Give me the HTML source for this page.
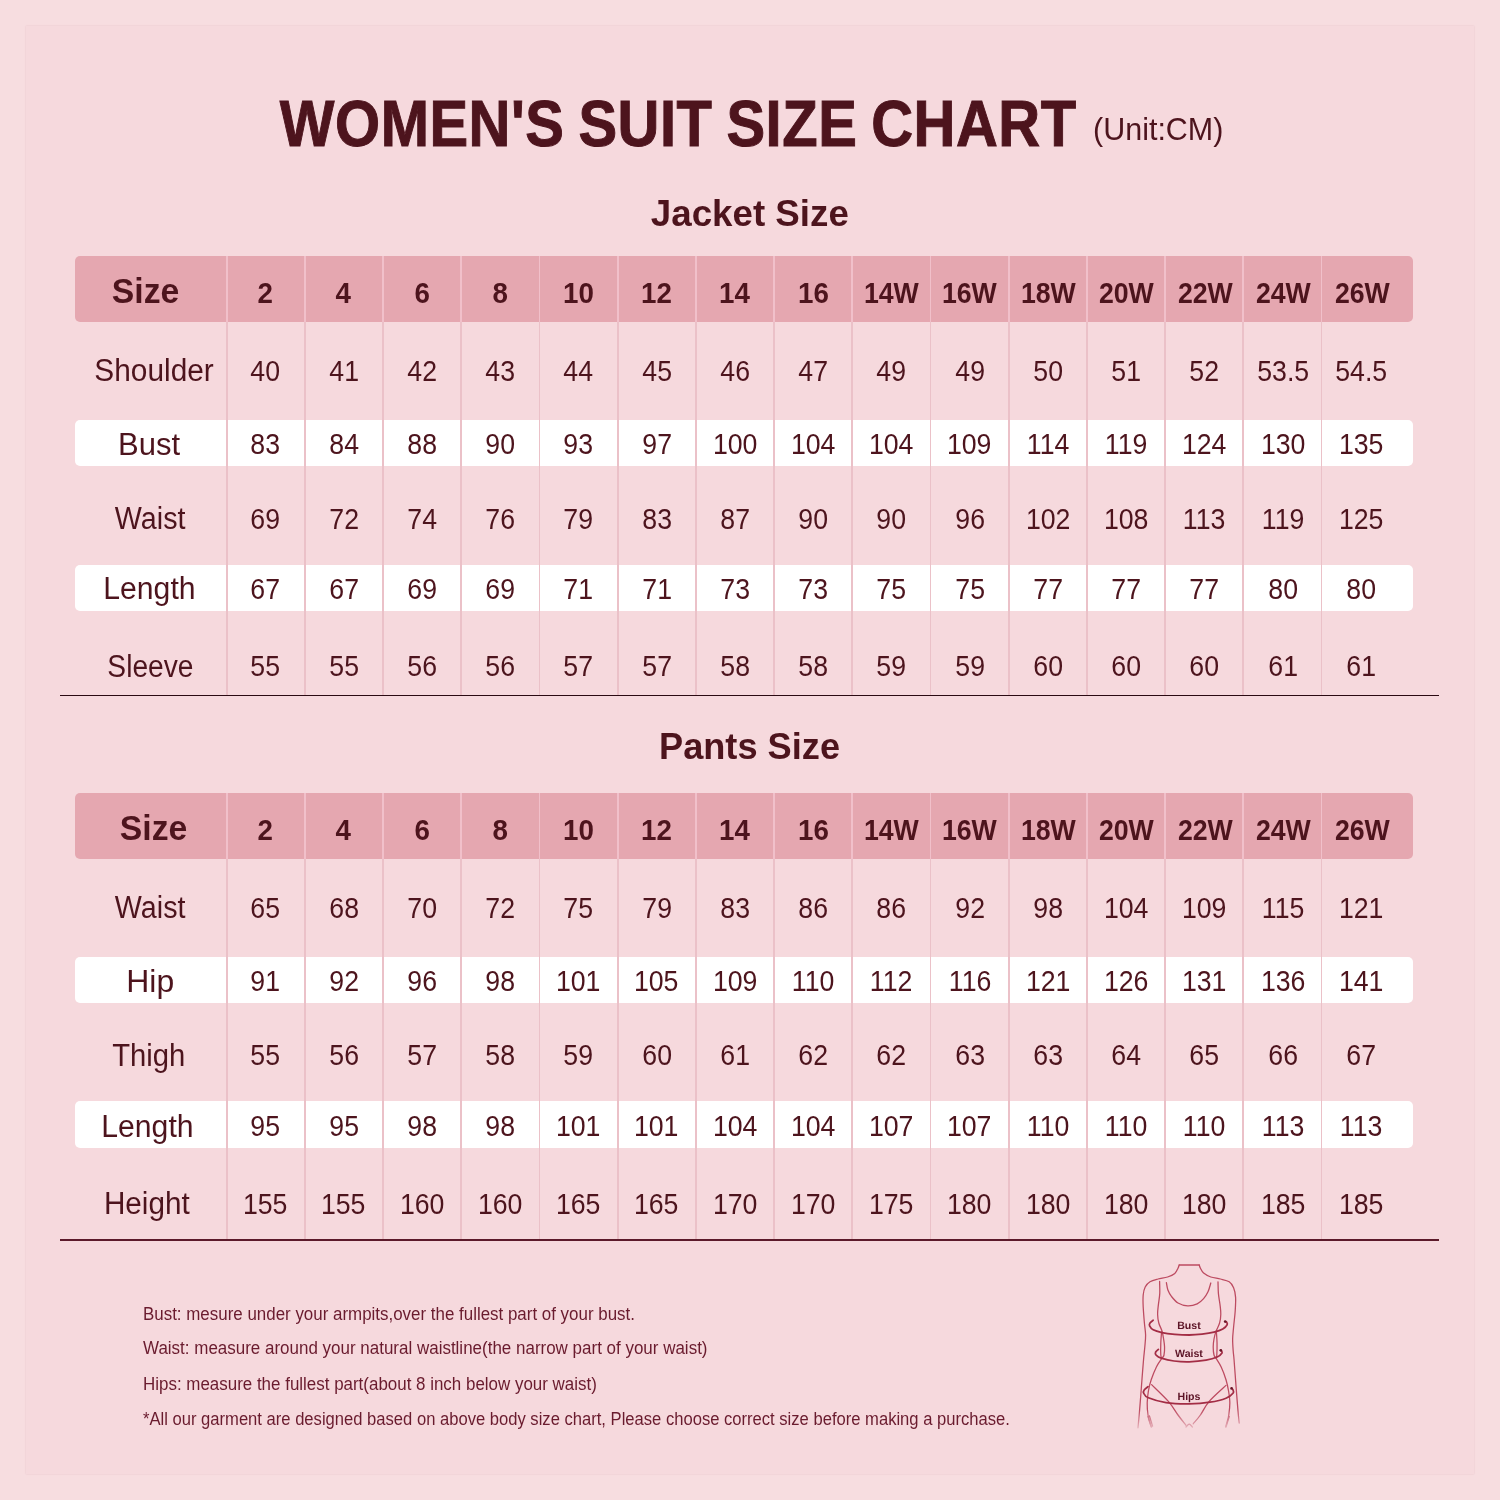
<!DOCTYPE html>
<html><head><meta charset="utf-8"><title>Women's Suit Size Chart</title>
<style>
html,body{margin:0;padding:0}
body{width:1500px;height:1500px;background:#f7dde0;position:relative;overflow:hidden;font-family:"Liberation Sans",sans-serif;color:#4d141d}
.panel{position:absolute;left:26px;top:26px;width:1447.5px;height:1447.5px;background:#f6d9dd;box-shadow:0 0 1.5px rgba(215,170,180,.55)}
.layer{position:absolute;left:0;top:0;width:1500px;height:1500px;will-change:transform}
.t{position:absolute;height:40px;line-height:40px;text-align:center;white-space:nowrap}
.t span{display:inline-block;transform-origin:50% 50%;transform:scaleX(.999)}
.ttl{font-size:64px;font-weight:bold;word-spacing:-3px;letter-spacing:.6px;-webkit-text-stroke:1px #4d141d}
.ttl span{transform:scaleX(.905)}
.unit{font-size:30.5px}
.sec{font-size:37.4px;font-weight:bold}
.sz{font-size:35.5px;font-weight:bold}
.sz span{transform:scaleX(.95)}
.hn{font-size:29.5px;font-weight:bold}
.hn span{transform:scaleX(.94)}
.nm{font-size:29px}
.nm span{transform:scaleX(.92)}
.lb{font-size:31px}
.wr{position:absolute;left:75px;width:1338px;background:#fff;border-radius:5px}
.hd{position:absolute;left:75px;width:1338px;height:66px;background:#e5a7b0;border-radius:5px}
.vl{position:absolute;width:1.7px;margin-left:.15px;background:#ebc1c8}
.vh{position:absolute;width:1.7px;margin-left:.15px;height:66px;background:#f1c0ca}
.bl{position:absolute;left:60px;width:1379px}
.nt{position:absolute;left:143px;height:30px;line-height:30px;font-size:17.5px;color:#6a1b2e;white-space:nowrap}
.nt span{display:inline-block;transform-origin:0 50%}
</style></head><body>
<div class="panel"></div>
<div class="layer">
<div class="t ttl" style="left:228.4px;top:104.0px;width:900px;"><span>WOMEN'S SUIT SIZE CHART</span></div>
<div class="t unit" style="left:1058.1px;top:109.2px;width:200px;"><span>(Unit:CM)</span></div>
<div class="t sec" style="left:549.7px;top:193.3px;width:400px;"><span style="transform:scaleX(0.982)">Jacket Size</span></div>
<div class="t sec" style="left:549.6px;top:726.1px;width:400px;"><span style="transform:scaleX(0.968)">Pants Size</span></div>
<div class="wr" style="top:420px;height:46px"></div>
<div class="wr" style="top:565px;height:46px"></div>
<div class="hd" style="top:256px"></div>
<div class="vl" style="left:225.7px;top:322px;height:373px"></div>
<div class="vh" style="left:225.7px;top:256px"></div>
<div class="vl" style="left:303.9px;top:322px;height:373px"></div>
<div class="vh" style="left:303.9px;top:256px"></div>
<div class="vl" style="left:382.1px;top:322px;height:373px"></div>
<div class="vh" style="left:382.1px;top:256px"></div>
<div class="vl" style="left:460.3px;top:322px;height:373px"></div>
<div class="vh" style="left:460.3px;top:256px"></div>
<div class="vl" style="left:538.5px;top:322px;height:373px"></div>
<div class="vh" style="left:538.5px;top:256px"></div>
<div class="vl" style="left:616.7px;top:322px;height:373px"></div>
<div class="vh" style="left:616.7px;top:256px"></div>
<div class="vl" style="left:694.9px;top:322px;height:373px"></div>
<div class="vh" style="left:694.9px;top:256px"></div>
<div class="vl" style="left:773.1px;top:322px;height:373px"></div>
<div class="vh" style="left:773.1px;top:256px"></div>
<div class="vl" style="left:851.3px;top:322px;height:373px"></div>
<div class="vh" style="left:851.3px;top:256px"></div>
<div class="vl" style="left:929.5px;top:322px;height:373px"></div>
<div class="vh" style="left:929.5px;top:256px"></div>
<div class="vl" style="left:1007.7px;top:322px;height:373px"></div>
<div class="vh" style="left:1007.7px;top:256px"></div>
<div class="vl" style="left:1085.9px;top:322px;height:373px"></div>
<div class="vh" style="left:1085.9px;top:256px"></div>
<div class="vl" style="left:1164.1px;top:322px;height:373px"></div>
<div class="vh" style="left:1164.1px;top:256px"></div>
<div class="vl" style="left:1242.3px;top:322px;height:373px"></div>
<div class="vh" style="left:1242.3px;top:256px"></div>
<div class="vl" style="left:1320.5px;top:322px;height:373px"></div>
<div class="vh" style="left:1320.5px;top:256px"></div>
<div class="bl" style="top:695px;height:1px;background:#2a0a12"></div>
<div class="t sz" style="left:45.2px;top:270.8px;width:200px;"><span>Size</span></div>
<div class="t hn" style="left:220.3px;top:273.3px;width:90px;"><span>2</span></div>
<div class="t hn" style="left:298.6px;top:273.3px;width:90px;"><span>4</span></div>
<div class="t hn" style="left:376.8px;top:273.3px;width:90px;"><span>6</span></div>
<div class="t hn" style="left:455.1px;top:273.3px;width:90px;"><span>8</span></div>
<div class="t hn" style="left:533.3px;top:273.3px;width:90px;"><span>10</span></div>
<div class="t hn" style="left:611.6px;top:273.3px;width:90px;"><span>12</span></div>
<div class="t hn" style="left:689.9px;top:273.3px;width:90px;"><span>14</span></div>
<div class="t hn" style="left:768.1px;top:273.3px;width:90px;"><span>16</span></div>
<div class="t hn" style="left:846.3px;top:273.3px;width:90px;"><span style="transform:scaleX(0.905)">14W</span></div>
<div class="t hn" style="left:924.7px;top:273.3px;width:90px;"><span style="transform:scaleX(0.905)">16W</span></div>
<div class="t hn" style="left:1003.1px;top:273.3px;width:90px;"><span style="transform:scaleX(0.905)">18W</span></div>
<div class="t hn" style="left:1081.6px;top:273.3px;width:90px;"><span style="transform:scaleX(0.905)">20W</span></div>
<div class="t hn" style="left:1160.0px;top:273.3px;width:90px;"><span style="transform:scaleX(0.905)">22W</span></div>
<div class="t hn" style="left:1238.4px;top:273.3px;width:90px;"><span style="transform:scaleX(0.905)">24W</span></div>
<div class="t hn" style="left:1316.9px;top:273.3px;width:90px;"><span style="transform:scaleX(0.905)">26W</span></div>
<div class="t lb" style="left:54.2px;top:351.4px;width:200px;"><span style="transform:scaleX(0.962)">Shoulder</span></div>
<div class="t nm" style="left:220.4px;top:351.1px;width:90px;"><span>40</span></div>
<div class="t nm" style="left:298.7px;top:351.1px;width:90px;"><span>41</span></div>
<div class="t nm" style="left:376.9px;top:351.1px;width:90px;"><span>42</span></div>
<div class="t nm" style="left:455.2px;top:351.1px;width:90px;"><span>43</span></div>
<div class="t nm" style="left:533.4px;top:351.1px;width:90px;"><span>44</span></div>
<div class="t nm" style="left:611.7px;top:351.1px;width:90px;"><span>45</span></div>
<div class="t nm" style="left:690.0px;top:351.1px;width:90px;"><span>46</span></div>
<div class="t nm" style="left:768.2px;top:351.1px;width:90px;"><span>47</span></div>
<div class="t nm" style="left:846.5px;top:351.1px;width:90px;"><span>49</span></div>
<div class="t nm" style="left:924.7px;top:351.1px;width:90px;"><span>49</span></div>
<div class="t nm" style="left:1003.0px;top:351.1px;width:90px;"><span>50</span></div>
<div class="t nm" style="left:1081.3px;top:351.1px;width:90px;"><span>51</span></div>
<div class="t nm" style="left:1159.5px;top:351.1px;width:90px;"><span>52</span></div>
<div class="t nm" style="left:1237.8px;top:351.1px;width:90px;"><span>53.5</span></div>
<div class="t nm" style="left:1316.0px;top:351.1px;width:90px;"><span>54.5</span></div>
<div class="t lb" style="left:49.0px;top:424.7px;width:200px;"><span style="transform:scaleX(1.0)">Bust</span></div>
<div class="t nm" style="left:220.4px;top:424.4px;width:90px;"><span>83</span></div>
<div class="t nm" style="left:298.7px;top:424.4px;width:90px;"><span>84</span></div>
<div class="t nm" style="left:376.9px;top:424.4px;width:90px;"><span>88</span></div>
<div class="t nm" style="left:455.2px;top:424.4px;width:90px;"><span>90</span></div>
<div class="t nm" style="left:533.4px;top:424.4px;width:90px;"><span>93</span></div>
<div class="t nm" style="left:611.7px;top:424.4px;width:90px;"><span>97</span></div>
<div class="t nm" style="left:690.0px;top:424.4px;width:90px;"><span>100</span></div>
<div class="t nm" style="left:768.2px;top:424.4px;width:90px;"><span>104</span></div>
<div class="t nm" style="left:846.5px;top:424.4px;width:90px;"><span>104</span></div>
<div class="t nm" style="left:924.7px;top:424.4px;width:90px;"><span>109</span></div>
<div class="t nm" style="left:1003.0px;top:424.4px;width:90px;"><span>114</span></div>
<div class="t nm" style="left:1081.3px;top:424.4px;width:90px;"><span>119</span></div>
<div class="t nm" style="left:1159.5px;top:424.4px;width:90px;"><span>124</span></div>
<div class="t nm" style="left:1237.8px;top:424.4px;width:90px;"><span>130</span></div>
<div class="t nm" style="left:1316.0px;top:424.4px;width:90px;"><span>135</span></div>
<div class="t lb" style="left:50.5px;top:499.0px;width:200px;"><span style="transform:scaleX(0.925)">Waist</span></div>
<div class="t nm" style="left:220.4px;top:498.7px;width:90px;"><span>69</span></div>
<div class="t nm" style="left:298.7px;top:498.7px;width:90px;"><span>72</span></div>
<div class="t nm" style="left:376.9px;top:498.7px;width:90px;"><span>74</span></div>
<div class="t nm" style="left:455.2px;top:498.7px;width:90px;"><span>76</span></div>
<div class="t nm" style="left:533.4px;top:498.7px;width:90px;"><span>79</span></div>
<div class="t nm" style="left:611.7px;top:498.7px;width:90px;"><span>83</span></div>
<div class="t nm" style="left:690.0px;top:498.7px;width:90px;"><span>87</span></div>
<div class="t nm" style="left:768.2px;top:498.7px;width:90px;"><span>90</span></div>
<div class="t nm" style="left:846.5px;top:498.7px;width:90px;"><span>90</span></div>
<div class="t nm" style="left:924.7px;top:498.7px;width:90px;"><span>96</span></div>
<div class="t nm" style="left:1003.0px;top:498.7px;width:90px;"><span>102</span></div>
<div class="t nm" style="left:1081.3px;top:498.7px;width:90px;"><span>108</span></div>
<div class="t nm" style="left:1159.5px;top:498.7px;width:90px;"><span>113</span></div>
<div class="t nm" style="left:1237.8px;top:498.7px;width:90px;"><span>119</span></div>
<div class="t nm" style="left:1316.0px;top:498.7px;width:90px;"><span>125</span></div>
<div class="t lb" style="left:49.8px;top:569.3px;width:200px;"><span style="transform:scaleX(0.973)">Length</span></div>
<div class="t nm" style="left:220.4px;top:569.0px;width:90px;"><span>67</span></div>
<div class="t nm" style="left:298.7px;top:569.0px;width:90px;"><span>67</span></div>
<div class="t nm" style="left:376.9px;top:569.0px;width:90px;"><span>69</span></div>
<div class="t nm" style="left:455.2px;top:569.0px;width:90px;"><span>69</span></div>
<div class="t nm" style="left:533.4px;top:569.0px;width:90px;"><span>71</span></div>
<div class="t nm" style="left:611.7px;top:569.0px;width:90px;"><span>71</span></div>
<div class="t nm" style="left:690.0px;top:569.0px;width:90px;"><span>73</span></div>
<div class="t nm" style="left:768.2px;top:569.0px;width:90px;"><span>73</span></div>
<div class="t nm" style="left:846.5px;top:569.0px;width:90px;"><span>75</span></div>
<div class="t nm" style="left:924.7px;top:569.0px;width:90px;"><span>75</span></div>
<div class="t nm" style="left:1003.0px;top:569.0px;width:90px;"><span>77</span></div>
<div class="t nm" style="left:1081.3px;top:569.0px;width:90px;"><span>77</span></div>
<div class="t nm" style="left:1159.5px;top:569.0px;width:90px;"><span>77</span></div>
<div class="t nm" style="left:1237.8px;top:569.0px;width:90px;"><span>80</span></div>
<div class="t nm" style="left:1316.0px;top:569.0px;width:90px;"><span>80</span></div>
<div class="t lb" style="left:50.3px;top:646.5px;width:200px;"><span style="transform:scaleX(0.908)">Sleeve</span></div>
<div class="t nm" style="left:220.4px;top:646.2px;width:90px;"><span>55</span></div>
<div class="t nm" style="left:298.7px;top:646.2px;width:90px;"><span>55</span></div>
<div class="t nm" style="left:376.9px;top:646.2px;width:90px;"><span>56</span></div>
<div class="t nm" style="left:455.2px;top:646.2px;width:90px;"><span>56</span></div>
<div class="t nm" style="left:533.4px;top:646.2px;width:90px;"><span>57</span></div>
<div class="t nm" style="left:611.7px;top:646.2px;width:90px;"><span>57</span></div>
<div class="t nm" style="left:690.0px;top:646.2px;width:90px;"><span>58</span></div>
<div class="t nm" style="left:768.2px;top:646.2px;width:90px;"><span>58</span></div>
<div class="t nm" style="left:846.5px;top:646.2px;width:90px;"><span>59</span></div>
<div class="t nm" style="left:924.7px;top:646.2px;width:90px;"><span>59</span></div>
<div class="t nm" style="left:1003.0px;top:646.2px;width:90px;"><span>60</span></div>
<div class="t nm" style="left:1081.3px;top:646.2px;width:90px;"><span>60</span></div>
<div class="t nm" style="left:1159.5px;top:646.2px;width:90px;"><span>60</span></div>
<div class="t nm" style="left:1237.8px;top:646.2px;width:90px;"><span>61</span></div>
<div class="t nm" style="left:1316.0px;top:646.2px;width:90px;"><span>61</span></div>
<div class="wr" style="top:956.5px;height:46.200000000000045px"></div>
<div class="wr" style="top:1101.3px;height:46.40000000000009px"></div>
<div class="hd" style="top:792.7px"></div>
<div class="vl" style="left:225.7px;top:858.7px;height:380.29999999999995px"></div>
<div class="vh" style="left:225.7px;top:792.7px"></div>
<div class="vl" style="left:303.9px;top:858.7px;height:380.29999999999995px"></div>
<div class="vh" style="left:303.9px;top:792.7px"></div>
<div class="vl" style="left:382.1px;top:858.7px;height:380.29999999999995px"></div>
<div class="vh" style="left:382.1px;top:792.7px"></div>
<div class="vl" style="left:460.3px;top:858.7px;height:380.29999999999995px"></div>
<div class="vh" style="left:460.3px;top:792.7px"></div>
<div class="vl" style="left:538.5px;top:858.7px;height:380.29999999999995px"></div>
<div class="vh" style="left:538.5px;top:792.7px"></div>
<div class="vl" style="left:616.7px;top:858.7px;height:380.29999999999995px"></div>
<div class="vh" style="left:616.7px;top:792.7px"></div>
<div class="vl" style="left:694.9px;top:858.7px;height:380.29999999999995px"></div>
<div class="vh" style="left:694.9px;top:792.7px"></div>
<div class="vl" style="left:773.1px;top:858.7px;height:380.29999999999995px"></div>
<div class="vh" style="left:773.1px;top:792.7px"></div>
<div class="vl" style="left:851.3px;top:858.7px;height:380.29999999999995px"></div>
<div class="vh" style="left:851.3px;top:792.7px"></div>
<div class="vl" style="left:929.5px;top:858.7px;height:380.29999999999995px"></div>
<div class="vh" style="left:929.5px;top:792.7px"></div>
<div class="vl" style="left:1007.7px;top:858.7px;height:380.29999999999995px"></div>
<div class="vh" style="left:1007.7px;top:792.7px"></div>
<div class="vl" style="left:1085.9px;top:858.7px;height:380.29999999999995px"></div>
<div class="vh" style="left:1085.9px;top:792.7px"></div>
<div class="vl" style="left:1164.1px;top:858.7px;height:380.29999999999995px"></div>
<div class="vh" style="left:1164.1px;top:792.7px"></div>
<div class="vl" style="left:1242.3px;top:858.7px;height:380.29999999999995px"></div>
<div class="vh" style="left:1242.3px;top:792.7px"></div>
<div class="vl" style="left:1320.5px;top:858.7px;height:380.29999999999995px"></div>
<div class="vh" style="left:1320.5px;top:792.7px"></div>
<div class="bl" style="top:1239px;height:1.8px;background:#5c1a2a"></div>
<div class="t sz" style="left:54.0px;top:807.5px;width:200px;"><span>Size</span></div>
<div class="t hn" style="left:220.3px;top:810.0px;width:90px;"><span>2</span></div>
<div class="t hn" style="left:298.6px;top:810.0px;width:90px;"><span>4</span></div>
<div class="t hn" style="left:376.8px;top:810.0px;width:90px;"><span>6</span></div>
<div class="t hn" style="left:455.1px;top:810.0px;width:90px;"><span>8</span></div>
<div class="t hn" style="left:533.3px;top:810.0px;width:90px;"><span>10</span></div>
<div class="t hn" style="left:611.6px;top:810.0px;width:90px;"><span>12</span></div>
<div class="t hn" style="left:689.9px;top:810.0px;width:90px;"><span>14</span></div>
<div class="t hn" style="left:768.1px;top:810.0px;width:90px;"><span>16</span></div>
<div class="t hn" style="left:846.3px;top:810.0px;width:90px;"><span style="transform:scaleX(0.905)">14W</span></div>
<div class="t hn" style="left:924.7px;top:810.0px;width:90px;"><span style="transform:scaleX(0.905)">16W</span></div>
<div class="t hn" style="left:1003.1px;top:810.0px;width:90px;"><span style="transform:scaleX(0.905)">18W</span></div>
<div class="t hn" style="left:1081.6px;top:810.0px;width:90px;"><span style="transform:scaleX(0.905)">20W</span></div>
<div class="t hn" style="left:1160.0px;top:810.0px;width:90px;"><span style="transform:scaleX(0.905)">22W</span></div>
<div class="t hn" style="left:1238.4px;top:810.0px;width:90px;"><span style="transform:scaleX(0.905)">24W</span></div>
<div class="t hn" style="left:1316.9px;top:810.0px;width:90px;"><span style="transform:scaleX(0.905)">26W</span></div>
<div class="t lb" style="left:50.0px;top:888.1px;width:200px;"><span style="transform:scaleX(0.925)">Waist</span></div>
<div class="t nm" style="left:220.4px;top:887.8px;width:90px;"><span>65</span></div>
<div class="t nm" style="left:298.7px;top:887.8px;width:90px;"><span>68</span></div>
<div class="t nm" style="left:376.9px;top:887.8px;width:90px;"><span>70</span></div>
<div class="t nm" style="left:455.2px;top:887.8px;width:90px;"><span>72</span></div>
<div class="t nm" style="left:533.4px;top:887.8px;width:90px;"><span>75</span></div>
<div class="t nm" style="left:611.7px;top:887.8px;width:90px;"><span>79</span></div>
<div class="t nm" style="left:690.0px;top:887.8px;width:90px;"><span>83</span></div>
<div class="t nm" style="left:768.2px;top:887.8px;width:90px;"><span>86</span></div>
<div class="t nm" style="left:846.5px;top:887.8px;width:90px;"><span>86</span></div>
<div class="t nm" style="left:924.7px;top:887.8px;width:90px;"><span>92</span></div>
<div class="t nm" style="left:1003.0px;top:887.8px;width:90px;"><span>98</span></div>
<div class="t nm" style="left:1081.3px;top:887.8px;width:90px;"><span>104</span></div>
<div class="t nm" style="left:1159.5px;top:887.8px;width:90px;"><span>109</span></div>
<div class="t nm" style="left:1237.8px;top:887.8px;width:90px;"><span>115</span></div>
<div class="t nm" style="left:1316.0px;top:887.8px;width:90px;"><span>121</span></div>
<div class="t lb" style="left:50.0px;top:961.5px;width:200px;"><span style="transform:scaleX(1.03)">Hip</span></div>
<div class="t nm" style="left:220.4px;top:961.2px;width:90px;"><span>91</span></div>
<div class="t nm" style="left:298.7px;top:961.2px;width:90px;"><span>92</span></div>
<div class="t nm" style="left:376.9px;top:961.2px;width:90px;"><span>96</span></div>
<div class="t nm" style="left:455.2px;top:961.2px;width:90px;"><span>98</span></div>
<div class="t nm" style="left:533.4px;top:961.2px;width:90px;"><span>101</span></div>
<div class="t nm" style="left:611.7px;top:961.2px;width:90px;"><span>105</span></div>
<div class="t nm" style="left:690.0px;top:961.2px;width:90px;"><span>109</span></div>
<div class="t nm" style="left:768.2px;top:961.2px;width:90px;"><span>110</span></div>
<div class="t nm" style="left:846.5px;top:961.2px;width:90px;"><span>112</span></div>
<div class="t nm" style="left:924.7px;top:961.2px;width:90px;"><span>116</span></div>
<div class="t nm" style="left:1003.0px;top:961.2px;width:90px;"><span>121</span></div>
<div class="t nm" style="left:1081.3px;top:961.2px;width:90px;"><span>126</span></div>
<div class="t nm" style="left:1159.5px;top:961.2px;width:90px;"><span>131</span></div>
<div class="t nm" style="left:1237.8px;top:961.2px;width:90px;"><span>136</span></div>
<div class="t nm" style="left:1316.0px;top:961.2px;width:90px;"><span>141</span></div>
<div class="t lb" style="left:48.6px;top:1035.5px;width:200px;"><span style="transform:scaleX(0.943)">Thigh</span></div>
<div class="t nm" style="left:220.4px;top:1035.2px;width:90px;"><span>55</span></div>
<div class="t nm" style="left:298.7px;top:1035.2px;width:90px;"><span>56</span></div>
<div class="t nm" style="left:376.9px;top:1035.2px;width:90px;"><span>57</span></div>
<div class="t nm" style="left:455.2px;top:1035.2px;width:90px;"><span>58</span></div>
<div class="t nm" style="left:533.4px;top:1035.2px;width:90px;"><span>59</span></div>
<div class="t nm" style="left:611.7px;top:1035.2px;width:90px;"><span>60</span></div>
<div class="t nm" style="left:690.0px;top:1035.2px;width:90px;"><span>61</span></div>
<div class="t nm" style="left:768.2px;top:1035.2px;width:90px;"><span>62</span></div>
<div class="t nm" style="left:846.5px;top:1035.2px;width:90px;"><span>62</span></div>
<div class="t nm" style="left:924.7px;top:1035.2px;width:90px;"><span>63</span></div>
<div class="t nm" style="left:1003.0px;top:1035.2px;width:90px;"><span>63</span></div>
<div class="t nm" style="left:1081.3px;top:1035.2px;width:90px;"><span>64</span></div>
<div class="t nm" style="left:1159.5px;top:1035.2px;width:90px;"><span>65</span></div>
<div class="t nm" style="left:1237.8px;top:1035.2px;width:90px;"><span>66</span></div>
<div class="t nm" style="left:1316.0px;top:1035.2px;width:90px;"><span>67</span></div>
<div class="t lb" style="left:47.8px;top:1106.6px;width:200px;"><span style="transform:scaleX(0.973)">Length</span></div>
<div class="t nm" style="left:220.4px;top:1106.3px;width:90px;"><span>95</span></div>
<div class="t nm" style="left:298.7px;top:1106.3px;width:90px;"><span>95</span></div>
<div class="t nm" style="left:376.9px;top:1106.3px;width:90px;"><span>98</span></div>
<div class="t nm" style="left:455.2px;top:1106.3px;width:90px;"><span>98</span></div>
<div class="t nm" style="left:533.4px;top:1106.3px;width:90px;"><span>101</span></div>
<div class="t nm" style="left:611.7px;top:1106.3px;width:90px;"><span>101</span></div>
<div class="t nm" style="left:690.0px;top:1106.3px;width:90px;"><span>104</span></div>
<div class="t nm" style="left:768.2px;top:1106.3px;width:90px;"><span>104</span></div>
<div class="t nm" style="left:846.5px;top:1106.3px;width:90px;"><span>107</span></div>
<div class="t nm" style="left:924.7px;top:1106.3px;width:90px;"><span>107</span></div>
<div class="t nm" style="left:1003.0px;top:1106.3px;width:90px;"><span>110</span></div>
<div class="t nm" style="left:1081.3px;top:1106.3px;width:90px;"><span>110</span></div>
<div class="t nm" style="left:1159.5px;top:1106.3px;width:90px;"><span>110</span></div>
<div class="t nm" style="left:1237.8px;top:1106.3px;width:90px;"><span>113</span></div>
<div class="t nm" style="left:1316.0px;top:1106.3px;width:90px;"><span>113</span></div>
<div class="t lb" style="left:46.4px;top:1184.1px;width:200px;"><span style="transform:scaleX(0.957)">Height</span></div>
<div class="t nm" style="left:220.4px;top:1183.8px;width:90px;"><span>155</span></div>
<div class="t nm" style="left:298.7px;top:1183.8px;width:90px;"><span>155</span></div>
<div class="t nm" style="left:376.9px;top:1183.8px;width:90px;"><span>160</span></div>
<div class="t nm" style="left:455.2px;top:1183.8px;width:90px;"><span>160</span></div>
<div class="t nm" style="left:533.4px;top:1183.8px;width:90px;"><span>165</span></div>
<div class="t nm" style="left:611.7px;top:1183.8px;width:90px;"><span>165</span></div>
<div class="t nm" style="left:690.0px;top:1183.8px;width:90px;"><span>170</span></div>
<div class="t nm" style="left:768.2px;top:1183.8px;width:90px;"><span>170</span></div>
<div class="t nm" style="left:846.5px;top:1183.8px;width:90px;"><span>175</span></div>
<div class="t nm" style="left:924.7px;top:1183.8px;width:90px;"><span>180</span></div>
<div class="t nm" style="left:1003.0px;top:1183.8px;width:90px;"><span>180</span></div>
<div class="t nm" style="left:1081.3px;top:1183.8px;width:90px;"><span>180</span></div>
<div class="t nm" style="left:1159.5px;top:1183.8px;width:90px;"><span>180</span></div>
<div class="t nm" style="left:1237.8px;top:1183.8px;width:90px;"><span>185</span></div>
<div class="t nm" style="left:1316.0px;top:1183.8px;width:90px;"><span>185</span></div>
<div class="nt" style="top:1298.7px"><span style="transform:scaleX(0.967)">Bust: mesure under your armpits,over the fullest part of your bust.</span></div>
<div class="nt" style="top:1333px"><span style="transform:scaleX(0.97)">Waist: measure around your natural waistline(the narrow part of your waist)</span></div>
<div class="nt" style="top:1368.7px"><span style="transform:scaleX(0.968)">Hips: measure the fullest part(about 8 inch below your waist)</span></div>
<div class="nt" style="top:1404.3px"><span style="transform:scaleX(0.948)">*All our garment are designed based on above body size chart, Please choose correct size before making a purchase.</span></div>
<svg class="fig" style="will-change:transform;position:absolute;left:1130px;top:1255px;width:120px;height:180px" viewBox="0 0 1500 2250">
<defs><linearGradient id="fade" x1="0" y1="0" x2="0" y2="1"><stop offset="0" stop-color="#fff" stop-opacity="1"/><stop offset="0.86" stop-color="#fff" stop-opacity="1"/><stop offset="1" stop-color="#fff" stop-opacity="0"/></linearGradient><mask id="fm"><rect x="0" y="0" width="1500" height="2250" fill="url(#fade)"/></mask></defs>
<g fill="none" stroke="#bd4b61" stroke-width="16" stroke-linecap="round" stroke-linejoin="round" mask="url(#fm)">
<path d="M615,125C612,132 609,148 600,165C591,182 582,212 560,230C538,248 505,263 470,275C435,287 387,290 350,300C313,310 277,318 250,335C223,352 204,372 190,400C176,428 169,458 165,500C161,542 162,592 165,650C168,708 175,792 180,850C185,908 194,950 195,1000C196,1050 189,1100 185,1150C181,1200 176,1233 170,1300C164,1367 156,1475 150,1550C144,1625 141,1675 135,1750C129,1825 121,1932 115,2000C109,2068 102,2133 100,2160"/>
<path d="M865,125C868,132 871,148 880,165C889,182 898,207 920,225C942,243 975,262 1010,275C1045,288 1092,290 1130,300C1168,310 1212,317 1240,335C1268,353 1282,378 1295,410C1308,442 1317,482 1320,530C1323,578 1319,638 1315,700C1311,762 1300,842 1295,900C1290,958 1284,1000 1283,1050C1282,1100 1287,1158 1290,1200C1293,1242 1296,1250 1300,1300C1304,1350 1310,1433 1315,1500C1320,1567 1324,1625 1330,1700C1336,1775 1344,1883 1350,1950C1356,2017 1362,2075 1365,2100"/>
<path d="M615,125C657,125 823,125 865,125"/>
<path d="M455,345C458,361 464,411 475,440C486,469 499,493 520,520C541,547 567,581 600,600C633,619 680,633 720,635C760,637 807,625 840,610C873,595 898,570 920,545C942,520 960,492 975,460C990,428 1004,368 1010,350"/>
<path d="M370,330C370,355 374,432 372,480C370,528 360,577 355,620C350,663 344,702 345,740C346,778 351,815 360,850C369,885 390,917 400,950C410,983 415,1017 420,1050C425,1083 431,1117 432,1150C433,1183 430,1227 425,1250C420,1273 416,1265 400,1290C384,1315 352,1355 330,1400C308,1445 282,1510 265,1560C248,1610 238,1652 230,1700C222,1748 216,1800 215,1850C214,1900 219,1958 225,2000C231,2042 242,2075 250,2100C258,2125 267,2142 270,2150"/>
<path d="M395,960C393,983 387,1052 385,1100C383,1148 383,1218 385,1250C387,1282 396,1283 398,1290"/>
<path d="M1100,335C1101,359 1101,432 1105,480C1109,528 1120,577 1125,620C1130,663 1136,702 1135,740C1134,778 1130,814 1120,850C1110,886 1087,922 1075,955C1063,988 1056,1018 1050,1050C1044,1082 1040,1117 1040,1150C1040,1183 1044,1227 1050,1250C1056,1273 1060,1265 1075,1290C1090,1315 1119,1355 1140,1400C1161,1445 1185,1510 1200,1560C1215,1610 1224,1652 1232,1700C1240,1748 1248,1800 1248,1850C1248,1900 1241,1958 1235,2000C1229,2042 1217,2075 1210,2100C1203,2125 1198,2142 1195,2150"/>
<path d="M1080,960C1081,983 1087,1052 1088,1100C1089,1148 1087,1218 1085,1250C1083,1282 1078,1283 1077,1290"/>
<path d="M270,1620C305,1655 425,1767 480,1830C535,1893 563,1950 600,2000C637,2050 683,2108 700,2130"/>
<path d="M1200,1630C1165,1663 1043,1768 990,1830C937,1892 913,1953 880,2000C847,2047 805,2092 790,2110"/>
<path d="M700,2150C707,2144 727,2115 740,2115C753,2115 773,2144 780,2150"/>
<path d="M225,2020C232,2042 258,2128 265,2150"/>
<path d="M242,2010C249,2032 275,2118 282,2140"/>
<path d="M1240,2020C1233,2042 1207,2128 1200,2150"/>
</g>
<g fill="none" stroke="#a32d45" stroke-width="22" stroke-linecap="round">
<path d="M290,815C283,821 258,838 250,850C242,862 238,871 245,885C252,899 264,921 290,935C316,949 355,960 400,970C445,980 503,987 560,992C617,997 683,1000 740,1000C797,1000 848,996 900,990C952,984 1007,976 1050,965C1093,954 1132,941 1160,925C1188,909 1208,885 1215,870C1222,855 1207,841 1205,835"/>
<path d="M355,1180C349,1186 325,1203 320,1215C315,1227 313,1238 325,1250C337,1262 352,1278 390,1290C428,1302 492,1318 550,1325C608,1332 673,1337 740,1335C807,1333 892,1325 950,1315C1008,1305 1057,1290 1090,1275C1123,1260 1142,1238 1150,1225C1158,1212 1142,1200 1140,1195"/>
<path d="M225,1645C218,1652 189,1672 180,1685C171,1698 162,1708 170,1725C178,1742 183,1765 230,1785C277,1805 365,1832 450,1845C535,1858 648,1861 740,1860C832,1859 923,1852 1000,1840C1077,1828 1152,1809 1200,1790C1248,1771 1276,1743 1290,1725C1304,1707 1286,1688 1285,1680"/>
</g>
<circle cx="1190" cy="832" r="17" fill="#6a1426"/>
<circle cx="1135" cy="1192" r="17" fill="#6a1426"/>
<circle cx="1270" cy="1668" r="17" fill="#6a1426"/>
<text x="737" y="930" text-anchor="middle" font-family="Liberation Sans, sans-serif" font-weight="bold" text-rendering="geometricPrecision" font-size="132" fill="#5c1426">Bust</text>
<text x="737" y="1280" text-anchor="middle" font-family="Liberation Sans, sans-serif" font-weight="bold" text-rendering="geometricPrecision" font-size="132" fill="#5c1426">Waist</text>
<text x="737" y="1808" text-anchor="middle" font-family="Liberation Sans, sans-serif" font-weight="bold" text-rendering="geometricPrecision" font-size="132" fill="#5c1426">Hips</text>
</svg>
</div>
</body></html>
